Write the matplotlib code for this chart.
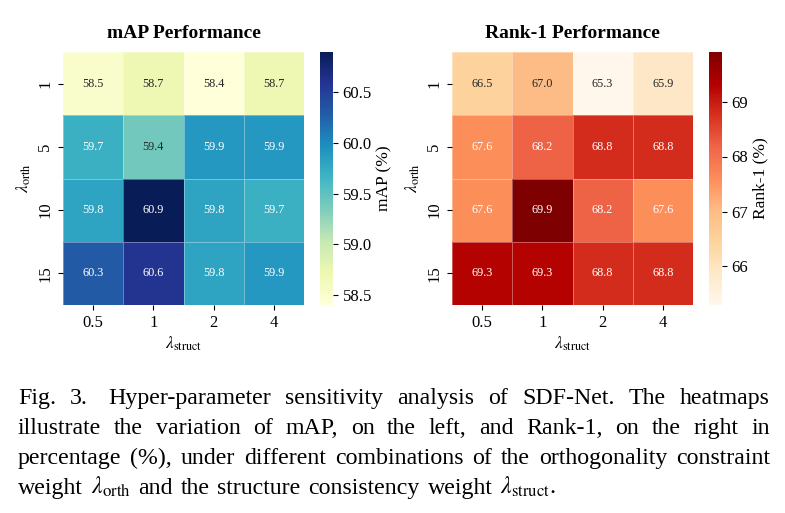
import matplotlib
matplotlib.use("Agg")
import matplotlib.pyplot as plt
import numpy as np
import seaborn as sns

plt.rcParams['font.family'] = ['Liberation Serif', 'DejaVu Serif']
plt.rcParams['mathtext.fontset'] = 'stix'

struct_labels = ['0.5', '1', '2', '4']
orth_labels = ['1', '5', '10', '15']
map_values = [[58.5, 58.7, 58.4, 58.7],
              [59.7, 59.4, 59.9, 59.9],
              [59.8, 60.9, 59.8, 59.7],
              [60.3, 60.6, 59.8, 59.9]]
rank1_values = [[66.5, 67.0, 65.3, 65.9],
                [67.6, 68.2, 68.8, 68.8],
                [67.6, 69.9, 68.2, 67.6],
                [69.3, 69.3, 68.8, 68.8]]
map_ticks = [58.5, 59.0, 59.5, 60.0, 60.5]
rank1_ticks = [66, 67, 68, 69]

caption_lines = [
    "Fig. 3.  Hyper-parameter sensitivity analysis of SDF-Net. The heatmaps",
    "illustrate the variation of mAP, on the left, and Rank-1, on the right in",
    "percentage (%), under different combinations of the orthogonality constraint",
    r"weight $\lambda_\mathrm{orth}$ and the structure consistency weight $\lambda_\mathrm{struct}$.",
]

W, H = 785, 513
fig = plt.figure(figsize=(W / 100, H / 100), dpi=100)

def fr(x0, y0, x1, y1):
    return [x0 / W, 1 - y1 / H, (x1 - x0) / W, (y1 - y0) / H]

TICK_FS = 12
panels = [
    (map_values, 'YlGnBu', 'mAP Performance', 'mAP (%)', map_ticks, '{:.1f}', 63, 320),
    (rank1_values, 'OrRd', 'Rank-1 Performance', 'Rank-1 (%)', rank1_ticks, '{:.0f}', 452, 709),
]
for vals, cmap, title, clabel, cticks, cfmt, x0, cx0 in panels:
    ax = fig.add_axes(fr(x0, 52, x0 + 241, 305))
    cax = fig.add_axes(fr(cx0, 52, cx0 + 13, 305))
    sns.heatmap(np.array(vals), ax=ax, cbar_ax=cax, cmap=cmap, annot=True, fmt='.1f',
                annot_kws={'fontsize': 8.8}, linewidths=0.6,
                linecolor=(1, 1, 1, 0.35),
                xticklabels=struct_labels, yticklabels=orth_labels)
    ax.set_position(fr(x0, 52, x0 + 241, 305))
    cax.set_position(fr(cx0, 52, cx0 + 13, 305))
    ax.set_title(title, fontsize=14, fontweight='bold', pad=10)
    ax.set_xlabel(r'$\lambda_\mathrm{struct}$', fontsize=12.5, labelpad=3)
    ax.set_ylabel(r'$\lambda_\mathrm{orth}$', fontsize=12.5, labelpad=3)
    ax.tick_params(axis='both', labelsize=TICK_FS)
    ax.set_yticklabels(orth_labels, rotation=90, va='center')
    ax.set_xticklabels(struct_labels, rotation=0)
    cax.set_yticks(cticks)
    cax.set_yticklabels([cfmt.format(t) for t in cticks])
    cax.tick_params(labelsize=TICK_FS)
    cax.set_ylabel(clabel, fontsize=12.5, labelpad=3)

# Justified caption
renderer = fig.canvas.get_renderer()
left_px, right_px = 18, 770
line_y = [398, 428, 458, 488]
last_line_width = 525

def measure(s, fs):
    t = fig.text(0, 0, s, fontsize=fs)
    w = t.get_window_extent(renderer).width
    t.remove()
    return w

fs = 10 * last_line_width / measure(caption_lines[-1], 10)

space_w = measure('a a', fs) - measure('aa', fs)
for i, line in enumerate(caption_lines):
    words = [w for w in line.split(' ') if w != '']
    texts = []
    widths = []
    for w in words:
        t = fig.text(0, 0, w, fontsize=fs, va='baseline', ha='left')
        texts.append(t)
        widths.append(t.get_window_extent(renderer).width)
    n = len(words)
    extra = [0.0] * n
    if i == 0:
        extra[2] = space_w
    if i < len(caption_lines) - 1:
        gap = (right_px - left_px - sum(widths) - sum(extra)) / (n - 1)
    else:
        gap = space_w * 1.3
    x = left_px
    for j, t in enumerate(texts):
        x += extra[j]
        t.set_position((x / W, 1 - (line_y[i] + 6) / H))
        x += widths[j] + gap

fig.savefig('out.png', dpi=100)
